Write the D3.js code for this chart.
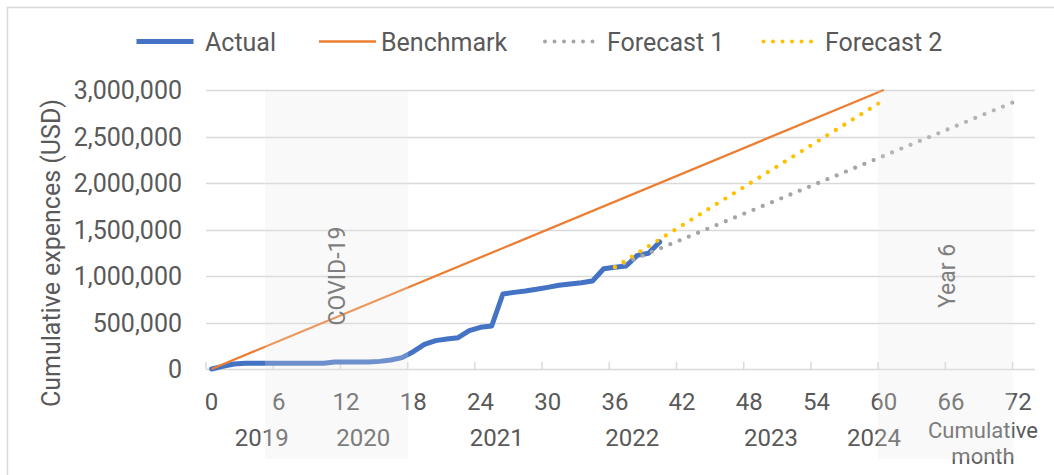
<!DOCTYPE html>
<html>
<head>
<meta charset="utf-8">
<script src="https://cdn.jsdelivr.net/npm/d3@7/dist/d3.min.js"></script>
<style>
  html, body { margin: 0; padding: 0; background: #fff; }
  svg { display: block; font-family: Roboto, "Noto Sans", sans-serif; }
</style>
</head>
<body>
<svg id="chart" width="1054" height="475"></svg>
<script>
// ---------- data ----------
const actualMonths = d3.range(0, 41);
const actualValues = [0, 28000, 54000, 61000, 62000, 62000, 62000, 62000, 62000, 62000,
  63000, 75000, 75000, 75000, 75000, 82000, 97000, 122000, 186000, 265000,
  305000, 322000, 337000, 412000, 448000, 462000, 806000, 824000, 839000, 857000,
  878000, 900000, 914000, 928000, 946000, 1078000, 1093000, 1108000, 1222000, 1244000, 1366000];
const benchmarkMonths = [0, 60];
const benchmarkValues = [0, 3000000];
const forecast1Months = [36, 72];
const forecast1Values = [1095000, 2890000];
const forecast2Months = [36, 60];
const forecast2Values = [1095000, 2890000];

const xTicks = [0, 6, 12, 18, 24, 30, 36, 42, 48, 54, 60, 66, 72];
const yTicks = [0, 500000, 1000000, 1500000, 2000000, 2500000, 3000000];
const yearLabels = ["2019", "2020", "2021", "2022", "2023", "2024"];
const yearMonths = [4.47, 13.54, 25.45, 37.55, 49.93, 59.13];
const bandLabels = ["COVID-19", "Year 6"];
const bandStart = [4.77, 59.48];
const bandEnd = [17.56, 71.53];
const seriesNames = ["Actual", "Benchmark", "Forecast 1", "Forecast 2"];

// ---------- layout ----------
const svg = d3.select("#chart");
const x = d3.scaleLinear().domain([-0.5, 73.5]).range([206, 1035]);
const y = d3.scaleLinear().domain([0, 3000000]).range([369, 90]);
const textColor = "#595959";
const gridColor = "#d9d9d9";

// chart frame
svg.append("rect").attr("x", 7.5).attr("y", 7.5).attr("width", 1100).attr("height", 500)
  .attr("fill", "none").attr("stroke", gridColor).attr("stroke-width", 1.5);

// gridlines
svg.append("g").selectAll("line").data(yTicks.filter(d => d > 0)).join("line")
  .attr("x1", x(-0.5)).attr("x2", x(73.5))
  .attr("y1", d => Math.round(y(d)) + 0.5).attr("y2", d => Math.round(y(d)) + 0.5)
  .attr("stroke", gridColor).attr("stroke-width", 1.5);

// x axis line and inside tick marks (between categories)
svg.append("line").attr("x1", x(-0.5)).attr("x2", x(73.5))
  .attr("y1", y(0) + 0.5).attr("y2", y(0) + 0.5)
  .attr("stroke", gridColor).attr("stroke-width", 1.5);
svg.append("g").selectAll("line").data(xTicks).join("line")
  .attr("x1", d => x(d - 0.5)).attr("x2", d => x(d - 0.5))
  .attr("y1", y(0) - 7).attr("y2", y(0))
  .attr("stroke", gridColor).attr("stroke-width", 1.5);

// y tick labels
const fmt = d3.format(",");
svg.append("g").selectAll("text").data(yTicks).join("text")
  .attr("x", 182).attr("y", d => y(d)).attr("dy", "0.36em")
  .attr("text-anchor", "end").attr("font-size", 25).attr("fill", textColor)
  .text(d => fmt(d));

// x tick labels
svg.append("g").selectAll("text").data(xTicks).join("text")
  .attr("x", d => x(d)).attr("y", 410)
  .attr("text-anchor", "middle").attr("font-size", 24).attr("fill", textColor)
  .text(d => d);

// year labels
svg.append("g").selectAll("text").data(yearLabels).join("text")
  .attr("x", (d, i) => x(yearMonths[i])).attr("y", 446)
  .attr("text-anchor", "middle").attr("font-size", 24).attr("fill", textColor)
  .text(d => d);

// axis titles
svg.append("text").attr("transform", "translate(60,253) rotate(-90)")
  .attr("text-anchor", "middle").attr("font-size", 25).attr("fill", textColor)
  .text("Cumulative expences (USD)");
const cm = svg.append("text").attr("text-anchor", "middle").attr("font-size", 22).attr("fill", textColor);
cm.append("tspan").attr("x", 983).attr("y", 438).text("Cumulative");
cm.append("tspan").attr("x", 983).attr("y", 464).text("month");

// ---------- series ----------
const line = d3.line().x(d => x(d[0])).y(d => y(d[1]));
const zip = (a, b) => a.map((v, i) => [v, b[i]]);

svg.append("path").datum(zip(actualMonths, actualValues))
  .attr("d", line).attr("fill", "none").attr("stroke", "#4472c4")
  .attr("stroke-width", 5).attr("stroke-linejoin", "round").attr("stroke-linecap", "round");
svg.append("path").datum(zip(benchmarkMonths, benchmarkValues))
  .attr("d", line).attr("fill", "none").attr("stroke", "#ed7d31")
  .attr("stroke-width", 2.25);
svg.append("path").datum(zip(forecast1Months, forecast1Values))
  .attr("d", line).attr("fill", "none").attr("stroke", "#a5a5a5")
  .attr("stroke-width", 4.3).attr("stroke-dasharray", "0 10").attr("stroke-linecap", "round");
svg.append("path").datum(zip(forecast2Months, forecast2Values))
  .attr("d", line).attr("fill", "none").attr("stroke", "#ffc000")
  .attr("stroke-width", 4.3).attr("stroke-dasharray", "0 10").attr("stroke-linecap", "round");

// ---------- shaded bands (semi-transparent overlay) ----------
svg.append("g").selectAll("rect").data(bandLabels).join("rect")
  .attr("x", (d, i) => x(bandStart[i])).attr("width", (d, i) => x(bandEnd[i]) - x(bandStart[i]))
  .attr("y", 91).attr("height", 368)
  .attr("fill", "#e7e7e7").attr("fill-opacity", 0.25);

// band labels
svg.append("g").selectAll("text").data(bandLabels).join("text")
  .attr("transform", (d, i) => {
    const cx = i === 0 ? 345 : 955;
    return `translate(${cx},276) rotate(-90)`;
  })
  .attr("text-anchor", "middle").attr("font-size", 23).attr("fill", "#7f7f7f")
  .text(d => d);

// ---------- legend ----------
const legendSampleX = [136.5, 319, 543, 761.5];
const legendTextX = [205, 381, 607, 825];
const legendY = 41.5;
const legendStyle = [
  { stroke: "#4472c4", w: 5, dash: null, cap: "butt" },
  { stroke: "#ed7d31", w: 2.5, dash: null, cap: "butt" },
  { stroke: "#a5a5a5", w: 4, dash: "0 9.5", cap: "round" },
  { stroke: "#ffc000", w: 4, dash: "0 9.5", cap: "round" }
];
const lg = svg.append("g");
seriesNames.forEach((name, i) => {
  const st = legendStyle[i];
  const dotted = st.dash !== null;
  lg.append("line")
    .attr("x1", legendSampleX[i] + (dotted ? 2 : 0)).attr("x2", legendSampleX[i] + (dotted ? 54 : 57))
    .attr("y1", legendY).attr("y2", legendY)
    .attr("stroke", st.stroke).attr("stroke-width", st.w)
    .attr("stroke-linecap", st.cap).attr("stroke-dasharray", st.dash);
  lg.append("text").attr("x", legendTextX[i]).attr("y", legendY).attr("dy", "0.36em")
    .attr("font-size", 25).attr("fill", textColor).text(name);
});
</script>
</body>
</html>
